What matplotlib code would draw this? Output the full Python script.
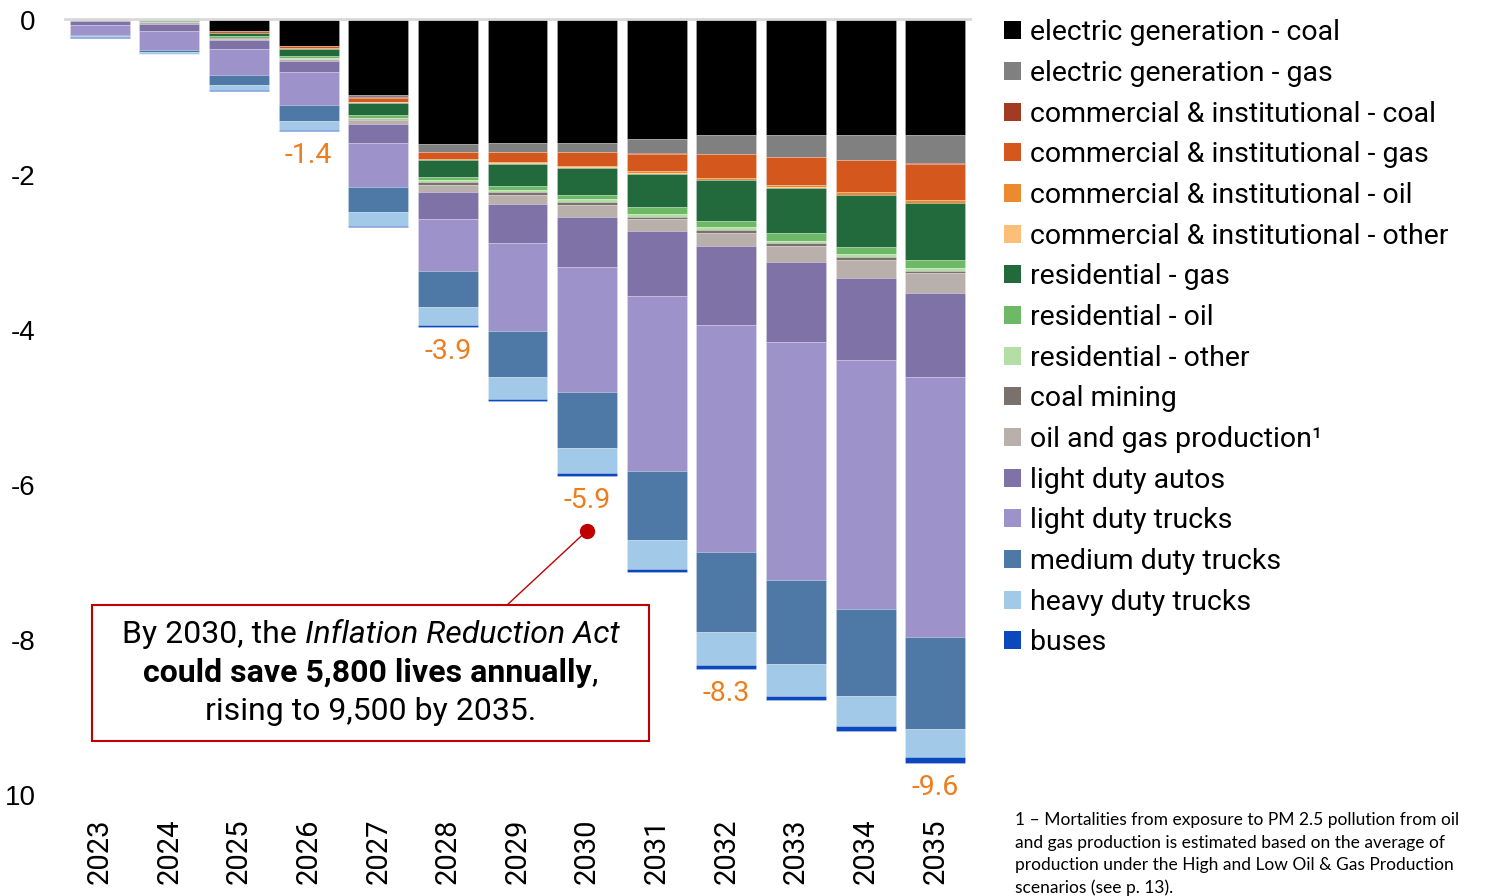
import matplotlib
matplotlib.use("Agg")
import matplotlib.pyplot as plt
from matplotlib.patches import Rectangle, Patch
from matplotlib.transforms import IdentityTransform
import numpy as np

# ---- data (avoided deaths, thousands) ----
years = ["2023", "2024", "2025", "2026", "2027", "2028", "2029",
         "2030", "2031", "2032", "2033", "2034", "2035"]

eg_coal = [0, 0, 0.144, 0.338, 0.973, 1.604, 1.591, 1.591, 1.54, 1.488, 1.488, 1.488, 1.488]
eg_gas = [0, 0.005, 0.003, 0.004, 0.03, 0.103, 0.112, 0.112, 0.184, 0.245, 0.28, 0.322, 0.365]
ci_coal = [0, 0, 0.002, 0.003, 0.005, 0.005, 0.005, 0.005, 0.006, 0.006, 0.006, 0.006, 0.006]
ci_gas = [0, 0.002, 0.02, 0.026, 0.057, 0.09, 0.133, 0.18, 0.228, 0.3, 0.365, 0.412, 0.464]
ci_oil = [0, 0, 0.002, 0.003, 0.005, 0.013, 0.013, 0.017, 0.026, 0.026, 0.026, 0.035, 0.039]
ci_other = [0, 0, 0, 0.001, 0.002, 0.003, 0.003, 0.004, 0.004, 0.004, 0.005, 0.005, 0.005]
res_gas = [0.005, 0.015, 0.048, 0.094, 0.158, 0.215, 0.284, 0.348, 0.429, 0.524, 0.589, 0.661, 0.731]
res_oil = [0.002, 0.005, 0.017, 0.026, 0.035, 0.043, 0.064, 0.064, 0.095, 0.086, 0.094, 0.094, 0.103]
res_other = [0.001, 0.002, 0.005, 0.008, 0.017, 0.022, 0.022, 0.026, 0.03, 0.039, 0.035, 0.044, 0.039]
coal_mining = [0.001, 0.005, 0.005, 0.006, 0.013, 0.03, 0.039, 0.039, 0.026, 0.03, 0.039, 0.03, 0.035]
oil_gas = [0.01, 0.02, 0.02, 0.02, 0.052, 0.09, 0.107, 0.155, 0.164, 0.177, 0.206, 0.232, 0.249]
ld_autos = [0.05, 0.1, 0.108, 0.142, 0.249, 0.352, 0.503, 0.653, 0.832, 1.009, 1.031, 1.057, 1.082]
ld_trucks = [0.13, 0.245, 0.343, 0.43, 0.559, 0.679, 1.147, 1.606, 2.264, 2.929, 3.062, 3.213, 3.36]
md_trucks = [0.015, 0.022, 0.125, 0.206, 0.326, 0.46, 0.593, 0.731, 0.88, 1.04, 1.091, 1.13, 1.18]
hd_trucks = [0.015, 0.02, 0.064, 0.116, 0.18, 0.236, 0.284, 0.318, 0.374, 0.416, 0.4, 0.387, 0.366]
buses = [0.005, 0.005, 0.013, 0.013, 0.013, 0.022, 0.022, 0.034, 0.048, 0.061, 0.064, 0.064, 0.077]

labels = ["electric generation - coal", "electric generation - gas",
          "commercial & institutional - coal", "commercial & institutional - gas",
          "commercial & institutional - oil", "commercial & institutional - other",
          "residential - gas", "residential - oil", "residential - other",
          "coal mining", "oil and gas production\u00b9", "light duty autos",
          "light duty trucks", "medium duty trucks", "heavy duty trucks", "buses"]
series = [eg_coal, eg_gas, ci_coal, ci_gas, ci_oil, ci_other, res_gas, res_oil,
          res_other, coal_mining, oil_gas, ld_autos, ld_trucks, md_trucks,
          hd_trucks, buses]
colors = ["#000000", "#808080", "#A23B24", "#D4581E", "#EB8A2E", "#FDBF78",
          "#226A3C", "#6DB965", "#B3DFA6", "#7A706C", "#B9B0AB", "#7F72A6",
          "#9D92C9", "#4E78A5", "#A3C9E8", "#0B48BE"]

total_years = ["2026", "2028", "2030", "2032", "2035"]
total_labels = [-1.4, -3.9, -5.9, -8.3, -9.6]

footnote = ("1 \u2013 Mortalities from exposure to PM 2.5 pollution from oil\n"
            "and gas production is estimated based on the average of\n"
            "production under the High and Low Oil & Gas Production\n"
            "scenarios (see p. 13).")

orange = "#EE7D1E"
red = "#C00000"

plt.rcParams["font.family"] = ["Roboto", "DejaVu Sans"]

fig = plt.figure(figsize=(15.04, 8.96), dpi=100)
ax = fig.add_axes([65 / 1504, 1 - 795 / 896, 905 / 1504, 775.5 / 896])

x = np.arange(len(years))
bottom = np.zeros(len(years))
for vals, col, lab in zip(series, colors, labels):
    v = -np.array(vals)
    ax.bar(x, v, bottom=bottom, width=0.86, color=col, label=lab,
           edgecolor=(1, 1, 1, 0.35), linewidth=0.4)
    bottom += v

# total labels under selected bars
for yr, val in zip(total_years, total_labels):
    i = years.index(yr)
    ax.annotate(f"{val:.1f}", xy=(i, bottom[i]), xytext=(0, -8),
                textcoords="offset points", ha="center", va="top",
                fontsize=20.5, color=orange)

ax.set_xlim(-0.5, len(years) - 0.5)
ax.set_ylim(-10, 0)
ax.set_yticks([0, -2, -4, -6, -8, -10])
ax.set_yticklabels(["0", "-2", "-4", "-6", "-8", "10"],
                   family=["Liberation Sans", "DejaVu Sans"])
ax.set_xticks(x)
ax.set_xticklabels(years, rotation=90)
ax.tick_params(axis="y", length=0, pad=21, labelsize=20)
ax.tick_params(axis="x", length=0, pad=17, labelsize=21)
for s in ["left", "right", "bottom"]:
    ax.spines[s].set_visible(False)
ax.spines["top"].set_color("#D9D9D9")
ax.spines["top"].set_linewidth(2)

# legend
handles = [Patch(facecolor=c, label=l) for c, l in zip(colors, labels)]
fig.legend(handles=handles, loc="upper left", bbox_to_anchor=(993 / 1504, 1 - 8 / 896),
           frameon=False, fontsize=20.5, handlelength=0.6, handleheight=0.6,
           handletextpad=0.3, labelspacing=0.48, borderaxespad=0)

# call-out box
i30 = years.index("2030")
dot_y = -6.59
ax.plot([i30, 5.85], [dot_y, -7.55], color=red, lw=1)
ax.plot(i30, dot_y, "o", color=red, ms=10, zorder=5)
ax.add_patch(Rectangle((-0.11, -9.3), 8.0, 1.755, facecolor="white",
                       edgecolor=red, lw=1.5, zorder=4))

fig.canvas.draw()
renderer = fig.canvas.get_renderer()
cx, _ = ax.transData.transform((3.89, 0))


def centered_line(y_px, parts):
    texts = [fig.text(0, y_px, s, transform=IdentityTransform(), fontsize=23,
                      va="center", ha="left", zorder=6, **st) for s, st in parts]
    widths = [t.get_window_extent(renderer).width for t in texts]
    start = cx - sum(widths) / 2
    for t, w in zip(texts, widths):
        t.set_x(start)
        start += w


centered_line(896 - 634, [("By 2030, the ", {}),
                          ("Inflation Reduction Act", {"style": "italic"})])
centered_line(896 - 673, [("could save 5,800 lives annually", {"weight": "bold"}),
                          (",", {})])
centered_line(896 - 711, [("rising to 9,500 by 2035.", {})])

fig.text(1015 / 1504, 1 - 812 / 896, footnote, fontsize=12.5, va="top", ha="left",
         family=["Lato", "DejaVu Sans"], linespacing=1.5)

fig.savefig("out.png", dpi=100)
